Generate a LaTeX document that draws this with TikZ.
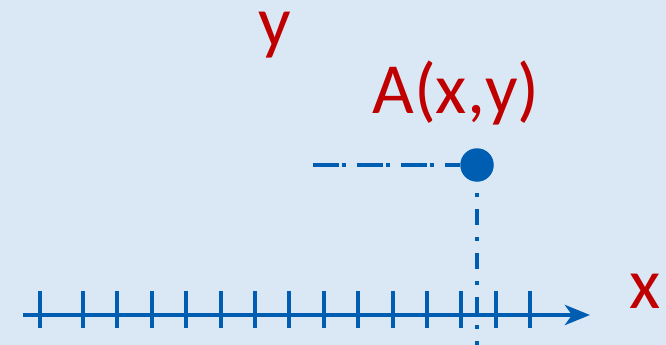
\documentclass[tikz,border=0pt]{standalone}
\usepackage{fontspec}
\setmainfont{Carlito}
\usetikzlibrary{arrows.meta}
\definecolor{axisblue}{RGB}{0,94,178}
\definecolor{labelred}{RGB}{192,0,0}
\definecolor{paperblue}{RGB}{218,232,246}

\begin{document}
\begin{tikzpicture}[
            x=1pt, y=-1pt,
            axisline/.style={color=axisblue, line width=4.5pt, -{Stealth[length=25pt, width=20pt, inset=7pt]}},
            tickmark/.style={color=axisblue, line width=4pt},
            guideh/.style={color=axisblue, line width=4pt, dash pattern=on 26pt off 3pt on 4pt off 11pt},
            guidev/.style={color=axisblue, line width=4pt, dash pattern=on 4pt off 12pt on 16pt off 12pt, dash phase=33pt},
            pointdot/.style={circle, fill=axisblue, inner sep=0pt, minimum size=33.5pt},
            rednode/.style={color=labelred, inner sep=0pt, anchor=base, text height=34pt, font=\fontsize{72}{80}\selectfont}
        ]
            % background
            \fill[paperblue] (0, 0) rectangle (666, 345);
            \useasboundingbox (0, 0) rectangle (666, 345);

            % ticks
            \foreach \x in {40, 83, 117.4, 151.8, 186.2, 220.6, 255, 289.4, 323.8, 358.2, 392.6, 427, 461.4, 495.8, 530.2}{
                \draw[tickmark] (\x, 291) -- (\x, 328);
            }

            % axis
            \coordinate (xstart) at (23, 315);
            \coordinate (xend) at (590, 315);
            \draw[axisline] (xstart) -- (xend);

            % point and its guides
            \node[pointdot] (pointA) at (477, 165) {};
            \coordinate (hstart) at (313, 165);
            \coordinate (vend) at (477, 345);
            \draw[guideh] (hstart) -- (pointA.west);
            \draw[guidev] (pointA.south) -- (vend);

            % labels
            \node[rednode] (ylabel) at (274.5, 46.5) {y};
            \node[rednode, text height=48pt] (pointlabel) at (456, 113) {A(x,y)};
            \node[rednode] (xlabel) at (645.5, 308) {x};

        \end{tikzpicture}
\end{document}
